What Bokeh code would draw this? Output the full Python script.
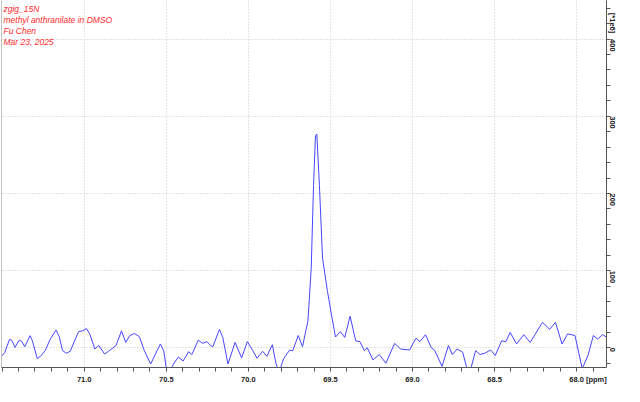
import math
from bokeh.plotting import figure
from bokeh.models import Range1d, FixedTicker, Label, Span
from bokeh.embed import file_html
from bokeh.resources import INLINE

# chemical shift (ppm) and intensity (*1e6)
ppm = [71.504, 71.484, 71.455, 71.441, 71.421, 71.396, 71.381, 71.362, 71.330, 71.316,
       71.286, 71.267, 71.237, 71.208, 71.172, 71.152, 71.132, 71.109, 71.085, 71.059,
       71.034, 71.010, 70.986, 70.966, 70.935, 70.911, 70.876, 70.852, 70.806, 70.773,
       70.747, 70.723, 70.694, 70.664, 70.634, 70.595, 70.566, 70.536, 70.516, 70.496,
       70.478, 70.456, 70.427, 70.397, 70.364, 70.344, 70.305, 70.279, 70.253, 70.229,
       70.216, 70.176, 70.156, 70.124, 70.081, 70.041, 70.006, 69.973, 69.947, 69.913,
       69.887, 69.854, 69.832, 69.814, 69.785, 69.749, 69.730, 69.696, 69.670, 69.637,
       69.617, 69.603, 69.591, 69.583, 69.567, 69.548, 69.518, 69.492, 69.469, 69.439,
       69.413, 69.380, 69.346, 69.320, 69.294, 69.275, 69.241, 69.202, 69.162, 69.109,
       69.073, 69.018, 68.978, 68.955, 68.921, 68.885, 68.866, 68.820, 68.781, 68.757,
       68.728, 68.694, 68.662, 68.646, 68.615, 68.589, 68.559, 68.524, 68.496, 68.457,
       68.431, 68.405, 68.366, 68.322, 68.283, 68.208, 68.164, 68.129, 68.089, 68.055,
       68.010, 67.966, 67.931, 67.898, 67.872, 67.842, 67.818]
intensity = [-11, -6, 11, 9.6, 0.6, 10, 8.4, 1.5, 15.7, 9.2,
             -14, -11, -3.6, 11, 23, 14.4, -3.6, -7, -4.5, 9,
             21, 22, 25, 17.7, -1.5, 3, -8, -4.5, 3, 22,
             7, 15.7, 18.6, 14.4, -3.6, -21, -8, 5, -3.6, -32,
             -30, -21, -12, -17, -5, -8.7, 10, 5.8, 8, 2.8,
             1.5, 24, 13.5, -21, 7, -13, 8, -3.6, -13.5, -4.5,
             -11, 4, -20, -32, -14, -3, -4, 16, 1.5, 35,
             103, 210, 275, 277, 210, 116, 73, 41, 14, 21,
             13.5, 41, 9, 8, -3.6, 0, -15.6, -8.7, -20, 5.8,
             -1.5, -2.8, 12.6, 8, 17, 0, -2.8, -24, 3, -8.7,
             -1.5, -5.8, -32, -28, -3.6, -8.7, -7, -2.8, -10, 9,
             8, 20, 5, 17, 7, 33, 24, 33, 5, 18,
             16, -27, -10, 16, 11.3, 17, 14]

x_major = [68.0, 68.5, 69.0, 69.5, 70.0, 70.5, 71.0]
x_minor = [round(67.8 + 0.1 * i, 1) for i in range(38)]
y_major = [0, 100, 200, 300, 400]
y_minor = [-20 + 20 * i for i in range(24)]
title_lines = ["zgig_15N", "methyl anthranilate in DMSO", "Fu Chen", "Mar 23, 2025"]
x_unit = "[ppm]"
x_unit_pos = 67.880
y_unit = "[*1e6]"
y_unit_pos = 434

W, H = 624, 386
BORDER_BOTTOM, BORDER_RIGHT = 18, 18
FRAME_H = H - BORDER_BOTTOM

p = figure(width=W, height=H, output_backend="svg", toolbar_location=None,
           x_range=Range1d(71.504, 67.818), y_range=Range1d(-25.5, 450),
           y_axis_location="right", min_border_left=1, min_border_top=0,
           min_border_right=BORDER_RIGHT, min_border_bottom=BORDER_BOTTOM)
p.outline_line_color = None
p.background_fill_color = "white"
p.border_fill_color = "white"

axis_color = "#555555"
label_font = "Liberation Sans"

xa = p.xaxis[0]
xa.ticker = FixedTicker(ticks=x_major + [x_unit_pos], minor_ticks=x_minor)
xa.axis_line_color = axis_color
xa.minor_tick_line_color = axis_color
xa.major_tick_line_color = None
xa.major_tick_in = 0
xa.major_tick_out = 4
xa.minor_tick_in = 0
xa.minor_tick_out = 4
xa.major_label_standoff = 3
xa.major_label_text_font = label_font
xa.major_label_text_font_size = "7.5px"
xa.major_label_text_font_style = "bold"
xa.major_label_text_color = "#202020"
overrides = {v: f"{v:.1f}" for v in x_major}
overrides[x_unit_pos] = x_unit
xa.major_label_overrides = overrides

ya = p.yaxis[0]
ya.ticker = FixedTicker(ticks=y_major + [y_unit_pos], minor_ticks=y_minor)
ya.axis_line_color = axis_color
ya.minor_tick_line_color = axis_color
ya.major_tick_line_color = None
ya.major_tick_in = 0
ya.major_tick_out = 4
ya.minor_tick_in = 0
ya.minor_tick_out = 4
ya.major_label_standoff = 2
ya.major_label_orientation = -math.pi / 2
ya.major_label_text_font = label_font
ya.major_label_text_font_size = "7.5px"
ya.major_label_text_font_style = "bold"
ya.major_label_text_color = "#202020"
ya.major_label_overrides = {y_unit_pos: y_unit}

p.xgrid[0].ticker = FixedTicker(ticks=x_major)
p.ygrid[0].ticker = FixedTicker(ticks=y_major)
for g in (p.xgrid[0], p.ygrid[0]):
    g.grid_line_color = "#c8c8c8"
    g.grid_line_dash = "1 2"
    g.grid_line_width = 1

p.add_layout(Span(location=71.504, dimension="height", line_color="#888888", line_width=1))

p.line(ppm, intensity, line_color="#4646ff", line_width=1)

for i, t in enumerate(title_lines):
    p.add_layout(Label(x=2, y=FRAME_H - 9.5 - 11 * i, x_units="screen", y_units="screen",
                       text=t, text_font=label_font, text_font_size="8.5px",
                       text_font_style="italic", text_color="#ff2a2a",
                       text_baseline="middle", text_align="left"))

open("out.html", "w").write(file_html(p, INLINE))
